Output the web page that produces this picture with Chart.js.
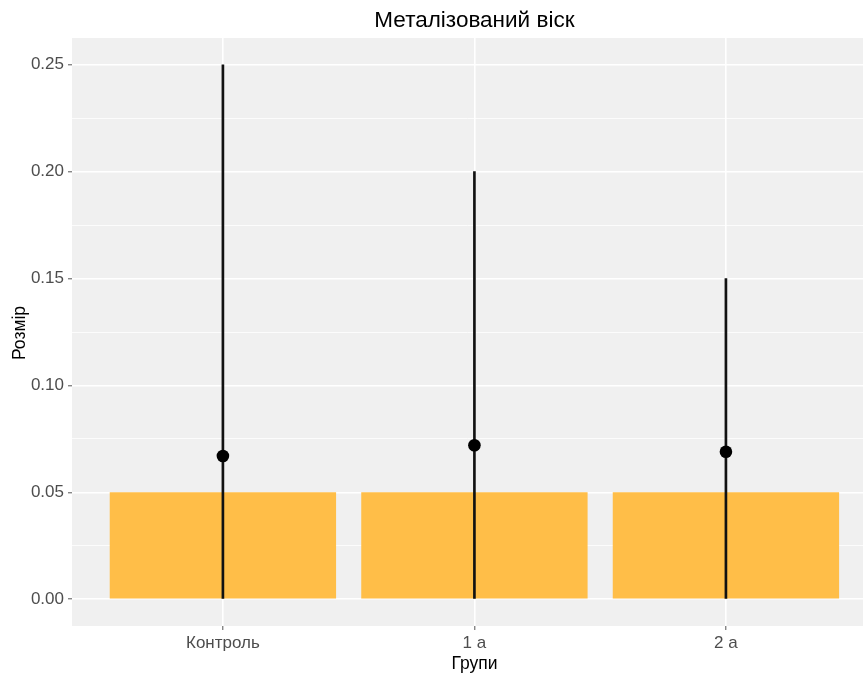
<!DOCTYPE html>
<html>
<head>
<meta charset="utf-8">
<script src="https://cdn.jsdelivr.net/npm/chart.js@4.4.1/dist/chart.umd.min.js"></script>
<style>
  html, body { margin: 0; padding: 0; background: #ffffff; }
  #wrap { width: 865px; height: 674px; }
</style>
</head>
<body>
<div id="wrap"><canvas id="chart" width="865" height="674"></canvas></div>
<script>
// Groups and measured sizes
const categories = ['Контроль', '1 а', '2 а'];
const barValues = [0.05, 0.05, 0.05];
const meanValues = [0.067, 0.072, 0.069];
const lowerValues = [0, 0, 0];
const upperValues = [0.25, 0.20, 0.15];
const yTickValues = [0, 0.05, 0.10, 0.15, 0.20, 0.25];
const yMinorValues = [0.025, 0.075, 0.125, 0.175, 0.225];

const chartTitle = 'Металізований віск';
const xTitle = 'Групи';
const yTitle = 'Розмір';

const FONT = '"Liberation Sans", Arial, sans-serif';
const PANEL = '#F0F0F0';

const idx = categories.map((_, i) => i);

// Panel background and the titles placed relative to the x scale
const panelPlugin = {
  id: 'panel',
  beforeDraw(chart) {
    const { ctx, chartArea: a } = chart;
    ctx.save();
    ctx.fillStyle = PANEL;
    ctx.fillRect(a.left, a.top, a.right - a.left, a.bottom - a.top);
    ctx.restore();
  },
  afterDraw(chart) {
    const { ctx, chartArea: a, scales } = chart;
    const cx = scales.x.getPixelForValue(1);
    ctx.save();
    ctx.fillStyle = '#000000';
    ctx.textAlign = 'center';
    ctx.textBaseline = 'middle';
    ctx.font = '22.5px ' + FONT;
    ctx.fillText(chartTitle, cx, 21);
    ctx.font = '17.5px ' + FONT;
    ctx.fillText(xTitle, cx, 664);
    ctx.translate(20, (a.top + a.bottom) / 2 + 1);
    ctx.rotate(-Math.PI / 2);
    ctx.fillText(yTitle, 0, 0);
    ctx.restore();
  }
};

const isMajor = v => yTickValues.some(t => Math.abs(t - v) < 1e-9);

new Chart(document.getElementById('chart'), {
  type: 'bar',
  data: {
    datasets: [
      {
        type: 'line',
        order: 0,
        data: idx.map(i => ({ x: i, y: meanValues[i] })),
        showLine: false,
        pointRadius: 6.3,
        pointBackgroundColor: '#000000',
        pointBorderColor: '#000000',
        pointBorderWidth: 0
      },
      {
        order: 1,
        grouped: false,
        data: idx.map(i => ({ x: i, y: [lowerValues[i], upperValues[i]] })),
        backgroundColor: '#111111',
        barThickness: 2,
        borderSkipped: false
      },
      {
        order: 2,
        grouped: false,
        data: idx.map(i => ({ x: i, y: barValues[i] })),
        backgroundColor: '#FFBE48',
        categoryPercentage: 1.0,
        barPercentage: 0.9
      }
    ]
  },
  options: {
    responsive: false,
    animation: false,
    events: [],
    layout: { autoPadding: false, padding: { top: 38, right: 2, bottom: 0, left: 0 } },
    plugins: {
      legend: { display: false },
      tooltip: { enabled: false },
      title: { display: false }
    },
    scales: {
      x: {
        type: 'linear',
        min: -0.6,
        max: 2.545,
        offset: false,
        afterBuildTicks(scale) {
          scale.ticks = idx.map(v => ({ value: v }));
        },
        afterFit(scale) {
          scale.height = 48;
          scale.paddingLeft = 0;
          scale.paddingRight = 0;
        },
        border: { display: false },
        grid: {
          offset: false,
          color: '#FFFFFF',
          lineWidth: 1.6,
          drawTicks: true,
          tickLength: 4,
          tickColor: '#555555',
          tickWidth: 1
        },
        ticks: {
          autoSkip: false,
          maxRotation: 0,
          padding: 3,
          color: '#4D4D4D',
          font: { family: FONT, size: 17 },
          callback: v => categories[Math.round(v)] ?? ''
        }
      },
      y: {
        type: 'linear',
        min: -0.0125,
        max: 0.2625,
        afterBuildTicks(scale) {
          const all = yTickValues.concat(yMinorValues).sort((a, b) => a - b);
          scale.ticks = all.map(v => ({ value: v }));
        },
        afterFit(scale) {
          scale.width = 72;
          scale.paddingTop = 0;
          scale.paddingBottom = 0;
        },
        border: { display: false },
        grid: {
          color: '#FFFFFF',
          lineWidth: ctx => isMajor(ctx.tick.value) ? 1.6 : 0.8,
          drawTicks: true,
          tickLength: 4,
          tickColor: ctx => isMajor(ctx.tick.value) ? '#555555' : 'rgba(0,0,0,0)',
          tickWidth: 1
        },
        ticks: {
          autoSkip: false,
          padding: 4,
          color: '#4D4D4D',
          font: { family: FONT, size: 17 },
          callback: v => isMajor(v) ? Number(v).toFixed(2) : ''
        }
      }
    }
  },
  plugins: [panelPlugin]
});
</script>
</body>
</html>
